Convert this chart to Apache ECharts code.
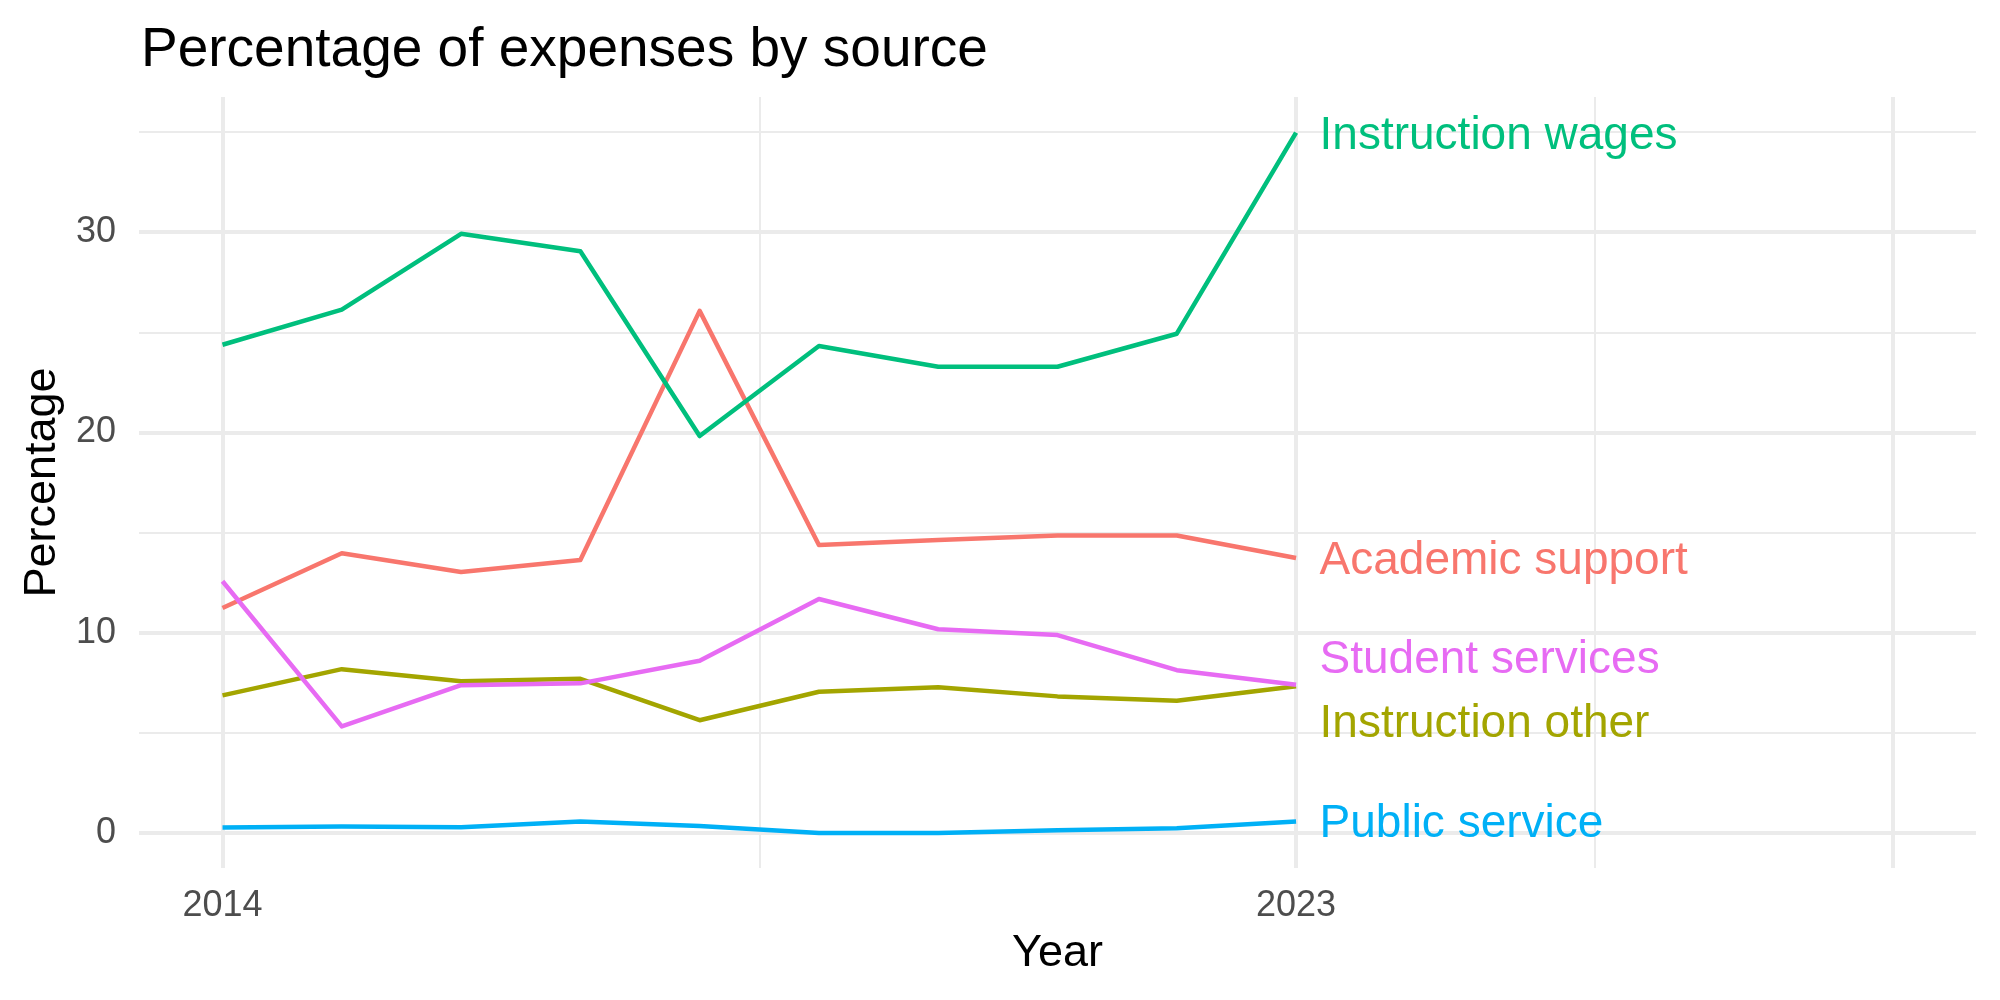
<!DOCTYPE html>
<html><head><meta charset="utf-8">
<script src="https://cdn.jsdelivr.net/npm/echarts@6/dist/echarts.min.js"></script>
<style>html,body{margin:0;padding:0;background:#fff}#c{width:2000px;height:1000px}</style>
</head><body><div id="c"></div>
<script>
const years = [2014, 2015, 2016, 2017, 2018, 2019, 2020, 2021, 2022, 2023];
const academicSupport  = [11.23, 13.97, 13.03, 13.63, 26.07, 14.38, 14.63, 14.85, 14.85, 13.73];
const instructionOther = [6.87, 8.18, 7.57, 7.70, 5.63, 7.05, 7.27, 6.82, 6.60, 7.33];
const instructionWages = [24.38, 26.13, 29.92, 29.05, 19.82, 24.32, 23.28, 23.28, 24.93, 34.97];
const publicService    = [0.27, 0.32, 0.28, 0.57, 0.35, 0.00, 0.00, 0.13, 0.23, 0.57];
const studentServices  = [12.57, 5.32, 7.38, 7.47, 8.60, 11.68, 10.17, 9.88, 8.13, 7.40];
const seriesNames = ['Academic support', 'Instruction other', 'Instruction wages', 'Public service', 'Student services'];
const seriesValues = [academicSupport, instructionOther, instructionWages, publicService, studentServices];
const seriesColors = ['#F8766D', '#A3A500', '#00BF7D', '#00B0F6', '#E76BF3'];
const labelYear = 2023;
const labelValues = [13.54, 5.44, 34.78, 0.44, 8.64];
const xTickLabels = [2014, 2023];
const xMajorBreaks = [2014, 2023, 2028];
const xMinorBreaks = [2018.5, 2025.5];
const yTickLabels = [0, 10, 20, 30];
const yMinorBreaks = [5, 15, 25, 35];
const xRange = [2013.3, 2028.7];
const yRange = [-1.75, 36.75];

const FONT = '"Liberation Sans", Arial, Helvetica, sans-serif';
const chart = echarts.init(document.getElementById('c'), null, {renderer: 'canvas'});

const gridLines = [];
xMajorBreaks.forEach(v => gridLines.push({xAxis: v, lineStyle: {width: 4}}));
xMinorBreaks.forEach(v => gridLines.push({xAxis: v, lineStyle: {width: 2}}));
yTickLabels.forEach(v => gridLines.push({yAxis: v, lineStyle: {width: 4}}));
yMinorBreaks.forEach(v => gridLines.push({yAxis: v, lineStyle: {width: 2}}));

const series = [{
  type: 'line', name: '_grid', data: [], z: 0, silent: true,
  markLine: {
    silent: true, z: 0, symbol: ['none', 'none'], animation: false,
    label: {show: false},
    lineStyle: {color: '#EBEBEB', type: 'solid'},
    data: gridLines
  }
}];
seriesNames.forEach((n, i) => {
  series.push({
    type: 'line', name: n, z: 3,
    data: years.map((y, j) => [y, seriesValues[i][j]]),
    showSymbol: false, symbol: 'none',
    lineStyle: {color: seriesColors[i], width: 4.5, opacity: 1, join: 'round'},
    itemStyle: {color: seriesColors[i]},
    animation: false
  });
});
series.push({
  type: 'scatter', name: '_labels', z: 4, symbolSize: 1, animation: false, silent: true,
  itemStyle: {color: 'rgba(0,0,0,0)', opacity: 1},
  data: seriesNames.map((n, i) => ({
    value: [labelYear, labelValues[i]],
    itemStyle: {opacity: 1},
    label: {show: true, position: 'right', distance: 23, formatter: n, opacity: 1,
            color: seriesColors[i], fontSize: 46, fontFamily: FONT}
  }))
});

chart.setOption({
  backgroundColor: '#ffffff',
  animation: false,
  title: {
    text: 'Percentage of expenses by source',
    left: 136, top: 18,
    textStyle: {fontSize: 55, fontWeight: 'normal', color: '#000', fontFamily: FONT}
  },
  grid: {left: 139, right: 24, top: 97, bottom: 132, containLabel: false},
  xAxis: {
    type: 'value', min: xRange[0], max: xRange[1],
    name: 'Year', nameLocation: 'middle', nameGap: 63,
    nameTextStyle: {fontSize: 45, color: '#000', fontFamily: FONT},
    axisLine: {show: false}, axisTick: {show: false}, splitLine: {show: false},
    axisLabel: {
      customValues: xTickLabels, margin: 20, fontSize: 36, color: '#4D4D4D', fontFamily: FONT,
      formatter: v => xTickLabels.indexOf(Math.round(v * 1000) / 1000) >= 0 ? String(v) : ''
    }
  },
  yAxis: {
    type: 'value', min: yRange[0], max: yRange[1],
    name: 'Percentage', nameLocation: 'middle', nameGap: 73,
    nameTextStyle: {fontSize: 45, color: '#000', fontFamily: FONT},
    axisLine: {show: false}, axisTick: {show: false}, splitLine: {show: false},
    axisLabel: {
      customValues: yTickLabels, margin: 23, fontSize: 36, color: '#4D4D4D', fontFamily: FONT,
      padding: [5, 0, 0, 0],
      formatter: v => yTickLabels.indexOf(Math.round(v * 1000) / 1000) >= 0 ? String(v) : ''
    }
  },
  series: series
});
</script>
</body></html>
